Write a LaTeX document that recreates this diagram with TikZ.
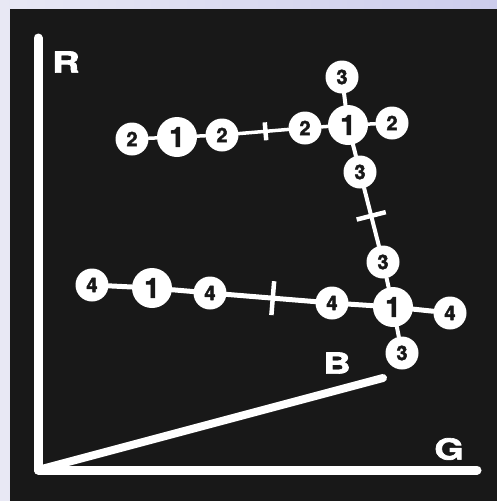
\documentclass[tikz,border=0pt]{standalone}
\usepackage{fontspec}
\setmainfont{TeX Gyre Heros}
\newfontfamily\heavy[FakeBold=2.2]{TeX Gyre Heros Bold}
\definecolor{panel}{RGB}{24,24,24}
\definecolor{lilacL}{RGB}{232,232,244}
\definecolor{lilacR}{RGB}{204,204,236}

\begin{document}
\begin{tikzpicture}[x=1pt,y=-1pt,line cap=round,line join=round,
  every node/.style={inner sep=0pt},
  dot/.style={circle,fill=white,minimum size=33pt,font=\fontsize{20}{20}\heavy,text=panel},
  hub/.style={dot,minimum size=40pt,font=\fontsize{28}{28}\heavy},
  link/.style={white,line width=4pt},
  tickmark/.style={sloped,fill=white,minimum width=4.5pt,minimum height=#1},
  axis/.style={white,line width=9pt},
  axislabel/.style={white,font=\fontsize{29}{29}\heavy}]
  \useasboundingbox (0,0) rectangle (497,501);
  \shade[left color=lilacL,right color=lilacR] (0,0) rectangle (497,501);
  \fill[panel] (10,9) rectangle (497,501);
  % axes
  \coordinate (O) at (38,470);
  \coordinate (Rend) at (38,38);
  \coordinate (Gend) at (477,470);
  \coordinate (Bend) at (383,378);
  \draw[axis] (Rend) -- (O) -- (Gend);
  \draw[axis,line width=8pt] (O) -- (Bend);
  \node[axislabel] (labR) at (66,62) {\scalebox{1.3}[1]{R}};
  \node[axislabel] (labB) at (337,363) {\scalebox{1.3}[1]{B}};
  \node[axislabel] (labG) at (449,449) {\scalebox{1.3}[1]{G}};
  % top row
  \node[dot] (t1) at (132,139) {2};
  \node[hub] (t2) at (177,137) {1};
  \node[dot] (t3) at (222,135) {2};
  \node[dot] (t4) at (305,128) {2};
  \node[hub] (h1) at (348,125) {1};
  \node[dot] (t5) at (392,123) {2};
  % column
  \node[dot] (c1) at (342,77) {3};
  \node[dot] (c2) at (360,172) {3};
  \node[dot] (c3) at (383,262) {3};
  \node[hub] (h2) at (393,307) {1};
  \node[dot] (c4) at (402,353) {3};
  % bottom row
  \node[dot] (b1) at (92,285) {4};
  \node[hub] (b2) at (152,288) {1};
  \node[dot] (b3) at (210,293) {4};
  \node[dot] (b4) at (332,303) {4};
  \node[dot] (b5) at (450,313) {4};
  \draw[link,line width=3.5pt] (t1) -- (t2) -- (t3)
    -- node[tickmark=18pt,pos=0.54] (k1) {} (t4) -- (h1) -- (t5);
  \draw[link] (c1) -- (h1) -- (c2)
    -- node[tickmark=30pt,pos=0.48] (k2) {} (c3) -- (h2) -- (c4);
  \draw[link,line width=5pt] (b1) -- (b2) -- (b3)
    -- node[tickmark=34pt,pos=0.52] (k3) {} (b4) -- (h2) -- (b5);
\end{tikzpicture}
\end{document}
